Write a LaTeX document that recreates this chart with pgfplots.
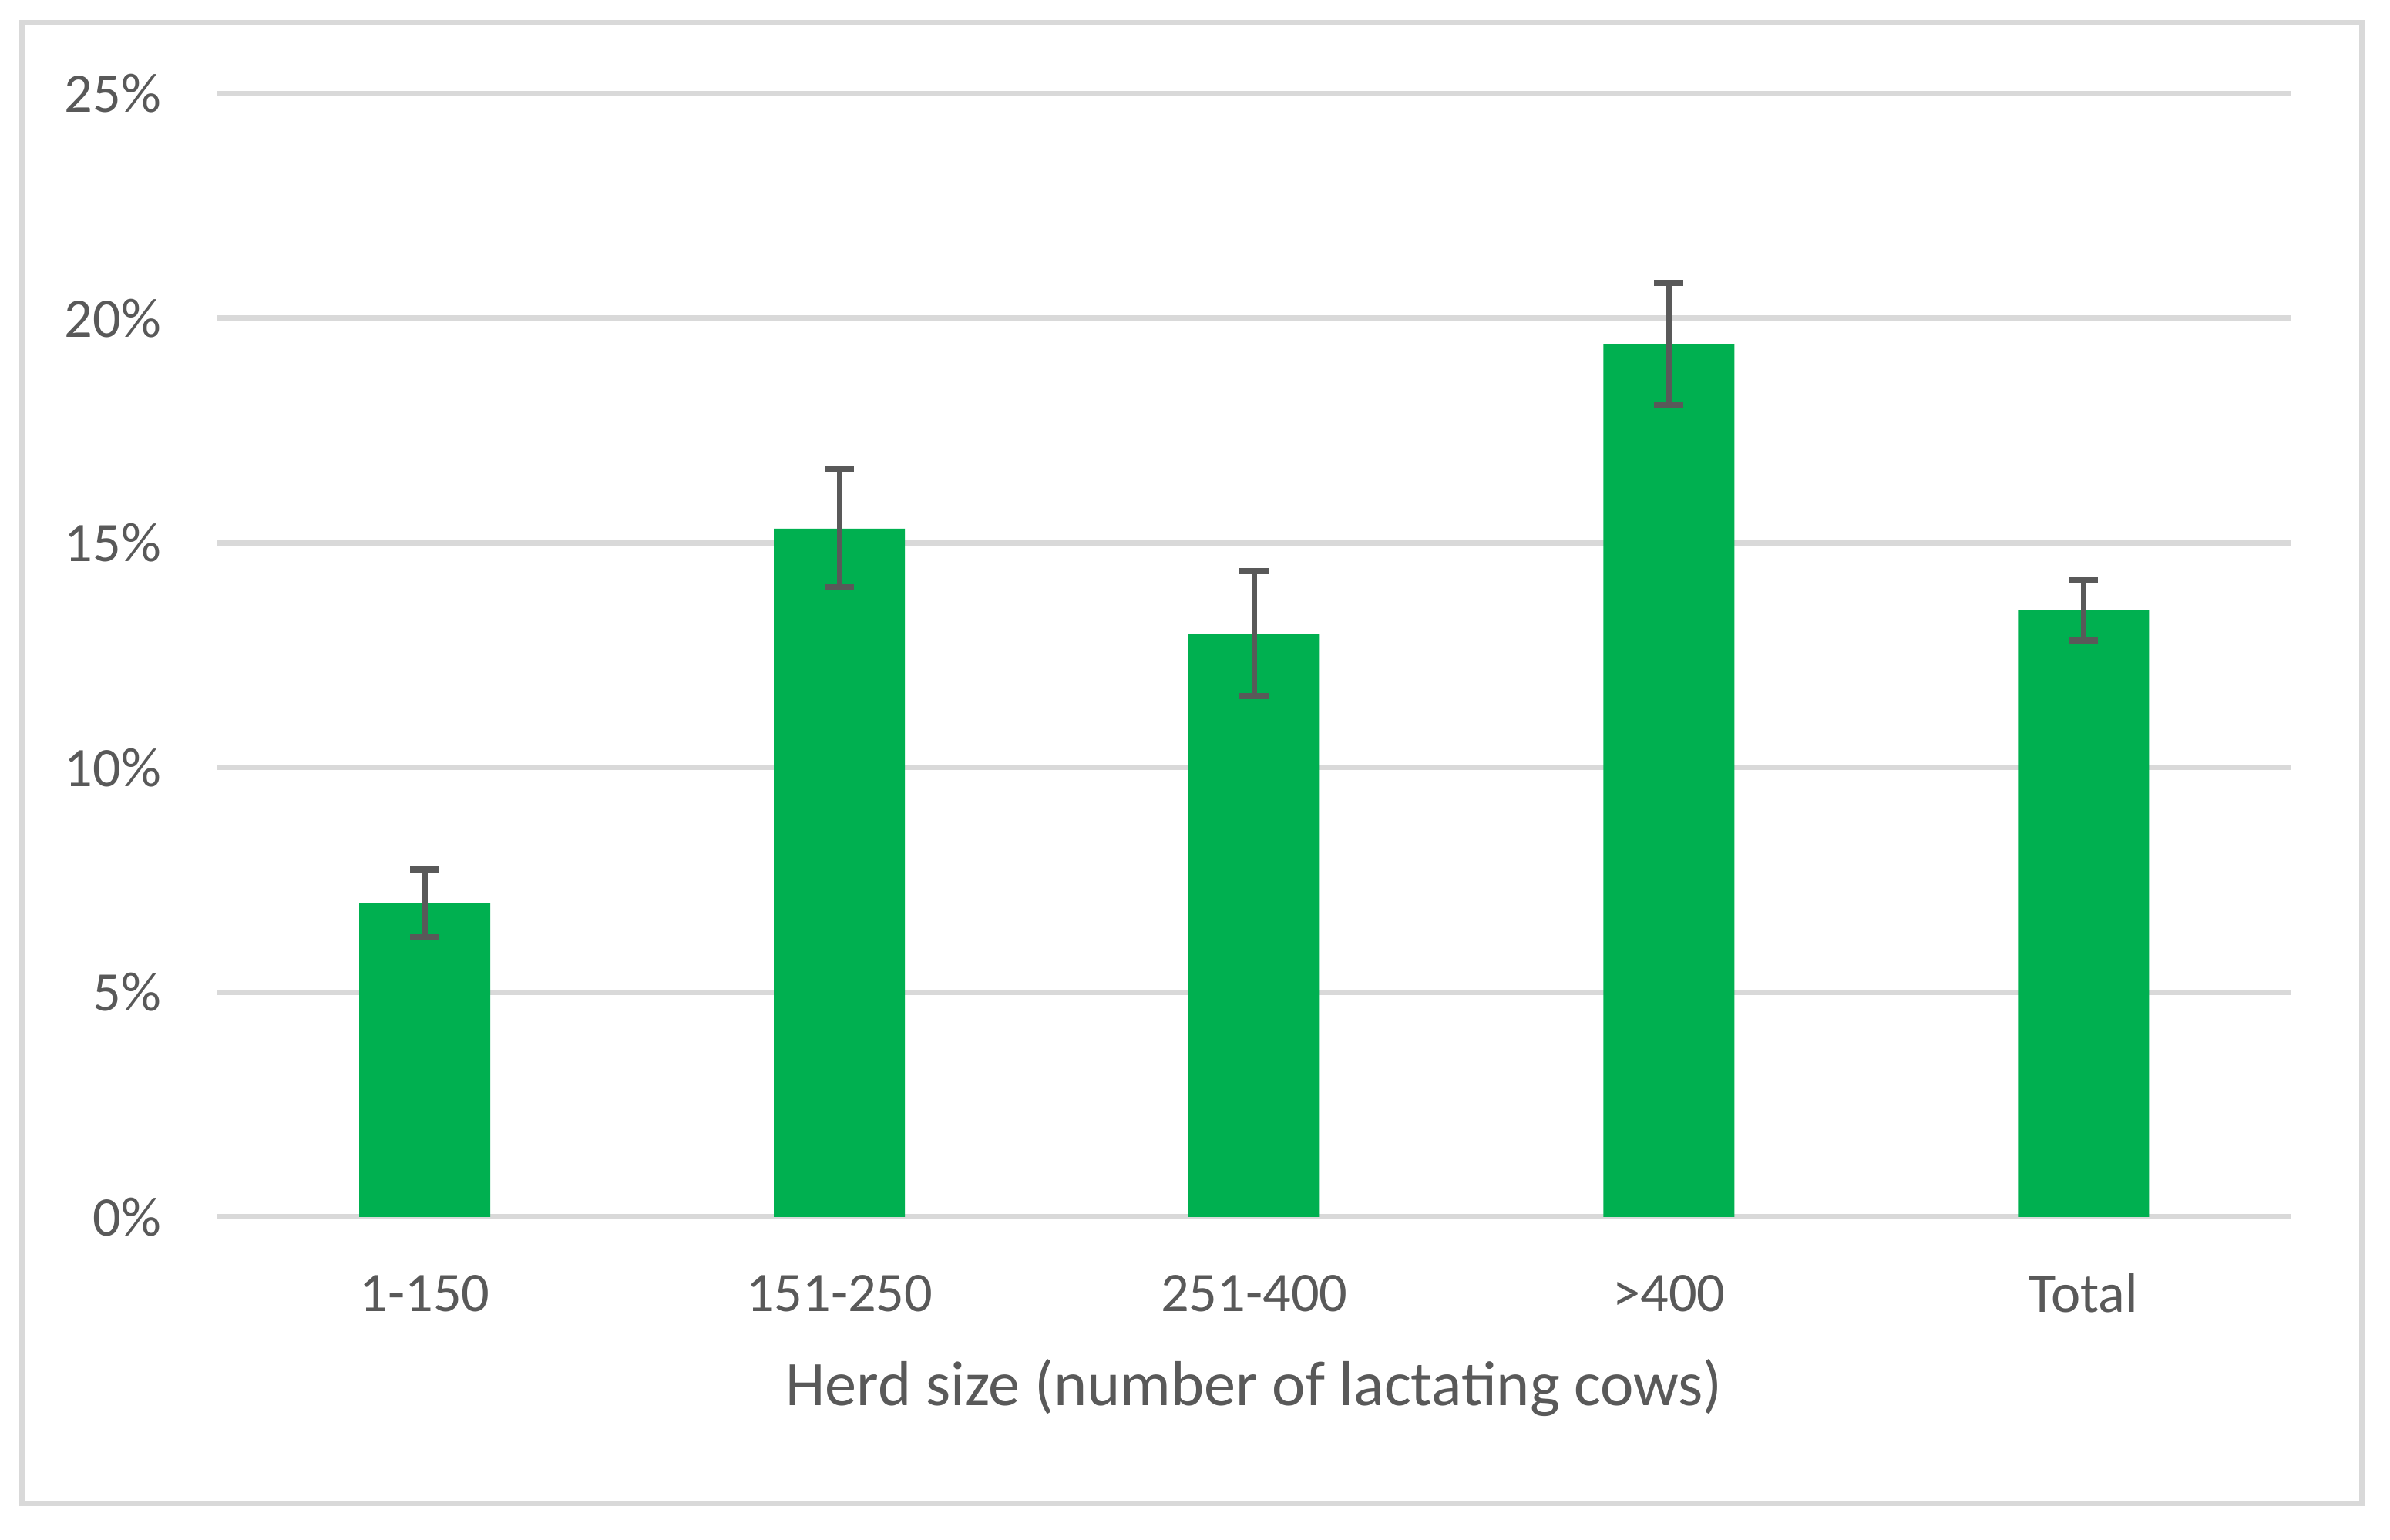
\documentclass[border=0pt]{standalone}
\usepackage{fontspec}
\setmainfont{Carlito}
\usepackage{pgfplots}
\pgfplotsset{compat=1.18}
\definecolor{bargreen}{HTML}{00B050}
\definecolor{errgrey}{HTML}{595959}
\definecolor{gridgrey}{HTML}{D9D9D9}
\definecolor{txtgrey}{HTML}{595959}
\begin{document}
\begin{tikzpicture}
\useasboundingbox (0,0) rectangle (784bp,505bp);
\draw[gridgrey, line width=1.77bp] (7.2bp,11.9bp) rectangle (774.7bp,497.65bp);
\begin{axis}[
  at={(71.3bp,105.8bp)}, anchor=south west,
  width=680.2bp, height=368.5bp, scale only axis,
  xmin=-0.5, xmax=4.5, ymin=0, ymax=25,
  axis line style={draw=none},
  xtick={0,1,2,3,4},
  xticklabels={1-150,151-250,251-400,>400,Total},
  ytick={0,5,10,15,20,25},
  yticklabels={0\%,5\%,10\%,15\%,20\%,25\%},
  major tick length=0pt,
  ymajorgrids, grid style={gridgrey, line width=1.77bp},
  tick label style={font=\fontsize{18.3bp}{22bp}\selectfont, color=txtgrey, inner sep=0pt},
  xticklabel style={anchor=center, yshift=-25bp},
  yticklabel style={anchor=east, xshift=-18.3bp},
  xlabel={Herd size (number of lactating cows)},
  xlabel style={font=\fontsize{20.8bp}{25bp}\selectfont, color=txtgrey, inner sep=0pt,
    at={(axis description cs:0.5,0)}, anchor=center, yshift=-56bp},
  clip=false,
]
\addplot[ybar, bar width=43bp, fill=bargreen, draw=none,
  error bars/.cd, y dir=both, y explicit,
  error bar style={errgrey, line width=1.77bp},
  error mark options={rotate=90, mark size=4.8bp, errgrey, line width=2bp}]
  coordinates {
    (0,6.98) +- (0,0.76)
    (1,15.32) +- (0,1.31)
    (2,12.98) +- (0,1.39)
    (3,19.43) +- (0,1.35)
    (4,13.50) +- (0,0.67)
  };
\end{axis}
\end{tikzpicture}
\end{document}
